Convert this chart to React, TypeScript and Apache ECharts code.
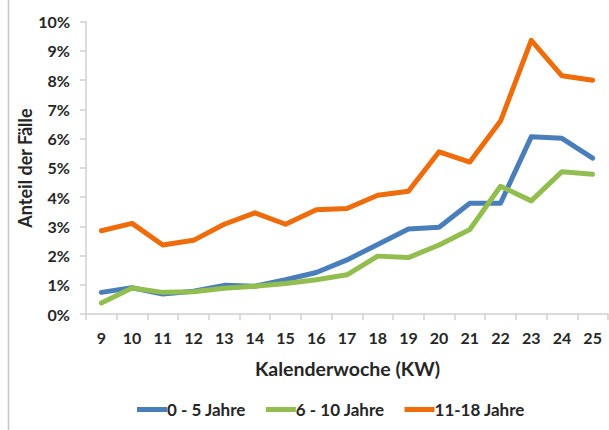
import React, { useEffect, useRef } from "react";
import * as echarts from "echarts";

const weeks = ["9", "10", "11", "12", "13", "14", "15", "16", "17", "18", "19", "20", "21", "22", "23", "24", "25"];
const age0to5 = [0.74, 0.9, 0.68, 0.78, 0.98, 0.95, 1.17, 1.42, 1.85, 2.38, 2.91, 2.97, 3.79, 3.79, 6.06, 6.01, 5.33];
const age6to10 = [0.38, 0.89, 0.74, 0.76, 0.88, 0.95, 1.04, 1.17, 1.34, 1.98, 1.93, 2.36, 2.89, 4.37, 3.87, 4.87, 4.78];
const age11to18 = [2.85, 3.1, 2.36, 2.52, 3.07, 3.46, 3.07, 3.57, 3.61, 4.06, 4.2, 5.55, 5.2, 6.6, 9.36, 8.15, 8.0];
const yTicks = [0, 1, 2, 3, 4, 5, 6, 7, 8, 9, 10];

const seriesNames = ["0 - 5 Jahre", "6 - 10 Jahre", "11-18 Jahre"];
const colors = ["#4A7EBB", "#92BE4F", "#EE6C0B"];

export default function App() {
  const ref = useRef<HTMLDivElement>(null);
  useEffect(() => {
    document.body.style.margin = "0";
    if (!ref.current) return;
    const chart = echarts.init(ref.current, null, { renderer: "svg" });
    const font = "Lato, 'Open Sans', sans-serif";
    const labelColor = "#262626";
    const mk = (name: string, data: number[], color: string) => ({
      name,
      type: "line",
      data,
      symbol: "none",
      lineStyle: { width: 5, color, cap: "round", join: "round" },
      itemStyle: { color },
      z: 3,
    });
    chart.setOption({
      animation: false,
      backgroundColor: "#ffffff",
      grid: { left: 86, right: 1, top: 21.7, bottom: 116, containLabel: false },
      xAxis: {
        type: "category",
        data: weeks,
        boundaryGap: true,
        axisLine: { lineStyle: { color: "#D0D0D0", width: 1.5 } },
        axisTick: { show: true, length: 6, lineStyle: { color: "#D0D0D0", width: 1.5 }, alignWithLabel: false },
        axisLabel: { margin: 15, color: labelColor, fontFamily: font, fontWeight: "bold", fontSize: 16 },
      },
      yAxis: {
        type: "value",
        min: yTicks[0],
        max: yTicks[yTicks.length - 1],
        interval: 1,
        axisLine: { show: true, lineStyle: { color: "#D0D0D0", width: 1.5 } },
        axisTick: { show: true, length: 6, lineStyle: { color: "#D0D0D0", width: 1.5 } },
        splitLine: { show: false },
        axisLabel: {
          margin: 16,
          formatter: "{value}%",
          color: labelColor,
          fontFamily: font,
          fontWeight: "bold",
          fontSize: 16,
        },
      },
      legend: {
        bottom: 7,
        left: 132,
        data: seriesNames,
        icon: "rect",
        itemWidth: 30,
        itemHeight: 5,
        itemGap: 20,
        textStyle: { color: labelColor, fontFamily: font, fontWeight: "bold", fontSize: 17, padding: [0, 0, 0, -5] },
      },
      graphic: [
        {
          type: "line",
          shape: { x1: 8.5, y1: 0, x2: 8.5, y2: 430 },
          style: { stroke: "#C8C8C8", lineWidth: 1.5 },
        },
        {
          type: "text",
          x: 25,
          y: 168,
          rotation: Math.PI / 2,
          style: {
            text: "Anteil der Fälle",
            fill: labelColor,
            font: `bold 18px ${font}`,
            textAlign: "center",
            textVerticalAlign: "middle",
          },
        },
        {
          type: "text",
          x: 347.5,
          y: 368,
          style: {
            text: "Kalenderwoche (KW)",
            fill: labelColor,
            font: `bold 19.5px ${font}`,
            textAlign: "center",
            textVerticalAlign: "middle",
          },
        },
      ],
      series: [
        mk(seriesNames[0], age0to5, colors[0]),
        mk(seriesNames[1], age6to10, colors[1]),
        mk(seriesNames[2], age11to18, colors[2]),
      ],
    });
    return () => chart.dispose();
  }, []);
  return <div ref={ref} style={{ width: 609, height: 430 }} />;
}
